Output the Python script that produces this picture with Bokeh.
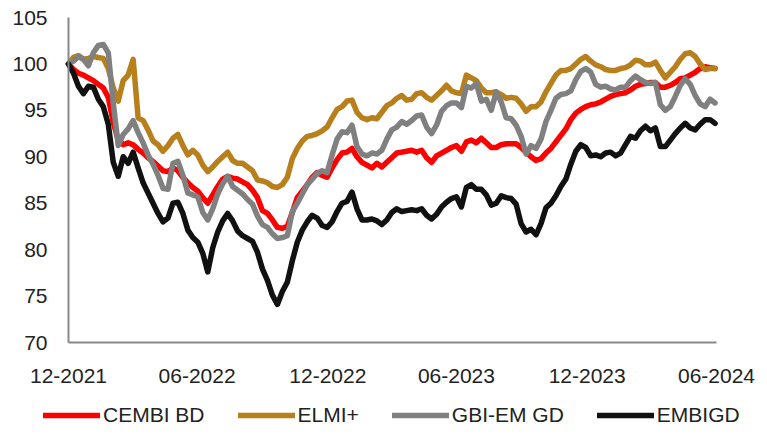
import pandas as pd
from bokeh.plotting import figure
from bokeh.models import Range1d, FixedTicker, DatetimeTickFormatter, Legend, LegendItem, DatetimeAxis, LinearAxis
from bokeh.embed import file_html
from bokeh.resources import INLINE

# weekly observations starting 2021-12-31
dates = pd.date_range("2021-12-31", periods=131, freq="7D")

cembi_bd = [
    100.0, 99.4, 99.0, 98.8, 98.5, 98.2, 97.8, 97.4, 96.4, 93.7,
    91.8, 91.3, 91.5, 91.3, 90.8, 90.4, 89.9, 89.5, 89.0, 88.5,
    88.4, 88.8, 88.5, 87.8, 87.2, 86.7, 86.3, 85.6, 85.0, 85.9,
    86.8, 87.6, 87.9, 87.7, 87.6, 87.3, 87.0, 86.4, 85.6, 84.2,
    83.9, 83.2, 82.4, 82.3, 82.5, 84.0, 85.6, 86.3, 87.0, 87.8,
    88.3, 88.0, 87.8, 88.8, 89.7, 90.4, 90.5, 90.9, 90.0, 89.4,
    89.1, 88.8, 89.3, 88.9, 89.4, 89.9, 90.4, 90.5, 90.6, 90.7,
    90.5, 90.7, 89.9, 89.4, 90.1, 90.4, 90.7, 91.0, 91.2, 90.6,
    91.6, 91.8, 91.5, 92.0, 91.5, 91.0, 91.0, 91.3, 91.4, 91.4,
    91.4, 91.0, 90.5, 90.0, 89.6, 89.8, 90.4, 90.9, 91.6, 92.3,
    93.0, 94.0, 94.7, 95.1, 95.4, 95.6, 95.7, 95.9, 96.2, 96.5,
    96.7, 96.8, 96.9, 97.2, 97.6, 97.8, 97.9, 98.0, 98.0, 97.5,
    97.5, 97.7, 98.0, 98.4, 98.5, 98.8, 99.1, 99.5, 99.7, 99.6,
    99.5,
]

elmi_plus = [
    100.0, 100.7, 100.9, 100.5, 100.6, 100.8, 100.7, 100.6, 99.5, 97.4,
    96.0, 98.2, 98.8, 100.5, 94.2, 93.9, 92.9, 91.7, 91.3, 90.6,
    91.2, 92.0, 92.4, 91.2, 90.2, 90.7, 90.2, 89.1, 88.4, 88.9,
    89.5, 90.0, 90.5, 89.6, 89.3, 89.3, 88.9, 88.5, 87.5, 87.4,
    87.2, 86.8, 86.7, 87.0, 87.8, 89.8, 90.9, 91.7, 92.2, 92.3,
    92.5, 92.8, 93.2, 94.2, 95.1, 95.4, 96.0, 96.1, 94.8, 94.2,
    94.0, 94.2, 94.1, 94.8, 95.5, 95.8, 96.3, 96.6, 96.1, 96.2,
    96.8, 96.9, 96.4, 96.1, 96.6, 97.1, 97.7, 97.1, 96.9, 96.8,
    98.8, 98.5, 98.2, 97.4, 96.9, 96.9, 97.0, 96.7, 96.3, 96.4,
    96.3, 95.7, 94.9, 95.4, 95.4, 95.9, 97.0, 97.9, 98.8, 99.3,
    99.3, 99.5, 100.0, 100.5, 100.8, 100.3, 99.9, 99.7, 99.4, 99.3,
    99.3, 99.5, 99.6, 99.9, 100.4, 100.3, 99.9, 99.9, 100.2, 99.3,
    98.5, 99.1, 99.7, 100.5, 101.1, 101.2, 100.8, 100.0, 99.4, 99.5,
    99.5,
]

gbi_em_gd = [
    100.0, 100.3, 100.8, 100.5, 99.8, 101.2, 102.0, 102.1, 101.2, 95.8,
    91.2, 92.4, 93.0, 93.9, 92.6, 91.5, 90.2, 89.2, 88.0, 86.6,
    86.5, 89.3, 89.5, 88.0, 86.1, 85.9, 85.7, 84.0, 83.2, 84.4,
    86.0, 87.1, 87.9, 86.8, 86.4, 86.0, 85.4, 84.9, 83.6, 82.7,
    82.4, 81.7, 81.2, 81.3, 81.5, 84.1, 85.0, 86.0, 87.0, 87.6,
    88.2, 88.5, 88.3, 90.2, 91.9, 92.7, 92.6, 93.4, 91.1, 90.3,
    90.1, 90.4, 90.3, 90.7, 91.9, 92.9, 93.2, 93.8, 93.5, 93.9,
    94.4, 94.5, 93.2, 92.5, 93.4, 94.9, 95.5, 95.8, 95.8, 95.3,
    97.6, 97.4, 97.9, 96.0, 96.2, 95.0, 97.0, 95.9, 94.2, 94.1,
    93.4, 92.2, 90.3, 91.2, 90.9, 91.9, 93.8, 95.0, 96.3, 96.7,
    96.8, 97.1, 98.3, 99.2, 99.5, 99.1, 97.8, 97.5, 97.6, 97.3,
    97.2, 97.5, 97.5, 98.2, 98.7, 98.3, 98.0, 97.9, 98.0, 95.6,
    95.0, 95.4, 96.5, 97.7, 98.4, 97.8, 96.6, 95.7, 95.4, 96.2,
    95.8,
]

embigd = [
    100.0, 99.0, 97.6, 96.8, 97.6, 97.5, 96.2, 95.4, 93.5, 89.4,
    87.9, 90.0, 89.3, 90.5, 88.8, 87.2, 86.1, 85.0, 83.9, 83.0,
    83.4, 85.0, 85.1, 83.9, 82.1, 81.3, 80.8, 79.6, 77.6, 80.2,
    81.9, 83.1, 83.9, 83.1, 82.0, 81.5, 81.2, 80.9, 79.7, 77.9,
    76.7, 75.1, 74.1, 75.5, 76.5, 78.8, 80.8, 82.1, 83.0, 83.7,
    83.4, 82.6, 82.4, 83.0, 84.1, 85.0, 85.2, 86.2, 84.4, 83.2,
    83.2, 83.3, 83.1, 82.7, 83.2, 84.0, 84.4, 84.1, 84.2, 84.3,
    84.2, 84.4, 83.7, 83.3, 83.8, 84.6, 85.1, 85.5, 85.7, 84.6,
    86.7, 87.0, 86.5, 86.5, 85.9, 84.8, 85.0, 85.8, 85.6, 85.5,
    84.9, 82.8, 81.9, 82.2, 81.6, 82.8, 84.5, 85.0, 85.8, 86.8,
    87.6, 89.2, 90.6, 91.3, 91.0, 90.1, 90.2, 90.0, 90.4, 90.5,
    90.1, 90.4, 91.3, 92.2, 92.0, 92.8, 93.3, 92.8, 93.1, 91.1,
    91.1, 91.8, 92.5, 93.1, 93.6, 93.1, 92.9, 93.5, 94.0, 94.0,
    93.6,
]

series_names = ["CEMBI BD", "ELMI+", "GBI-EM GD", "EMBIGD"]
series_values = [cembi_bd, elmi_plus, gbi_em_gd, embigd]
series_colors = ["#FF0000", "#B8801C", "#808080", "#111111"]

x_tick_dates = ["2021-12-31", "2022-06-30", "2022-12-31", "2023-06-30", "2023-12-31", "2024-06-30"]
y_ticks = [70, 75, 80, 85, 90, 95, 100, 105]
y_min, y_max = 70, 105

FONT = "Liberation Sans"
TXT = "#222222"
AXIS = "#888888"
LW = 5.5

# layout (pixels): canvas and where the axes box sits inside it
W, H = 767, 434
BOX_L, BOX_R, BOX_T, BOX_B = 68, 716, 17, 342

def ms(d):
    return pd.Timestamp(d).value // 10**6

t0, t1 = ms(x_tick_dates[0]), ms(x_tick_dates[-1])
kx = (t1 - t0) / (BOX_R - BOX_L)
ky = (y_max - y_min) / (BOX_B - BOX_T)

# the frame spans the whole canvas; axes are pinned to the data box
p = figure(
    width=W, height=H, output_backend="svg", toolbar_location=None,
    x_axis_type=None, y_axis_type=None,
    x_range=Range1d(t0 - BOX_L * kx, t1 + (W - BOX_R) * kx),
    y_range=Range1d(y_min - (H - BOX_B) * ky, y_max + BOX_T * ky),
    min_border_left=0, min_border_right=0, min_border_top=0, min_border_bottom=0,
)
p.outline_line_color = None
p.background_fill_color = "white"
p.border_fill_color = "white"

renderers = []
for name, vals, col in zip(series_names, series_values, series_colors):
    r = p.line(dates, vals, line_color=col, line_width=LW,
               line_join="round", line_cap="round")
    renderers.append(r)

fmt = "%m-%Y"
xaxis = DatetimeAxis(
    ticker=FixedTicker(ticks=[ms(d) for d in x_tick_dates]),
    formatter=DatetimeTickFormatter(
        milliseconds=fmt, seconds=fmt, minsec=fmt, minutes=fmt, hourmin=fmt,
        hours=fmt, days=fmt, months=fmt, years=fmt),
    fixed_location=y_min, bounds=(t0, t1),
)
yaxis = LinearAxis(ticker=FixedTicker(ticks=y_ticks), fixed_location=t0, bounds=(y_min, y_max))
for ax in (xaxis, yaxis):
    ax.axis_line_color = AXIS
    ax.axis_line_width = 2
    ax.major_tick_line_color = None
    ax.minor_tick_line_color = None
    ax.major_tick_out = 0
    ax.major_tick_in = 0
    ax.major_label_text_font = FONT
    ax.major_label_text_font_size = "21px"
    ax.major_label_text_color = TXT
xaxis.major_label_standoff = 26
yaxis.major_label_standoff = 21
p.add_layout(xaxis, "below")
p.add_layout(yaxis, "left")

legend = Legend(
    items=[LegendItem(label=n, renderers=[r]) for n, r in zip(series_names, renderers)],
    location=(43, 7), orientation="horizontal",
    glyph_width=57, glyph_height=20, label_standoff=3, spacing=33,
    padding=0, margin=0,
    label_text_font=FONT, label_text_font_size="21px", label_text_color=TXT,
    background_fill_alpha=0, border_line_alpha=0,
)
p.add_layout(legend)

open("out.html", "w").write(file_html(p, INLINE))
